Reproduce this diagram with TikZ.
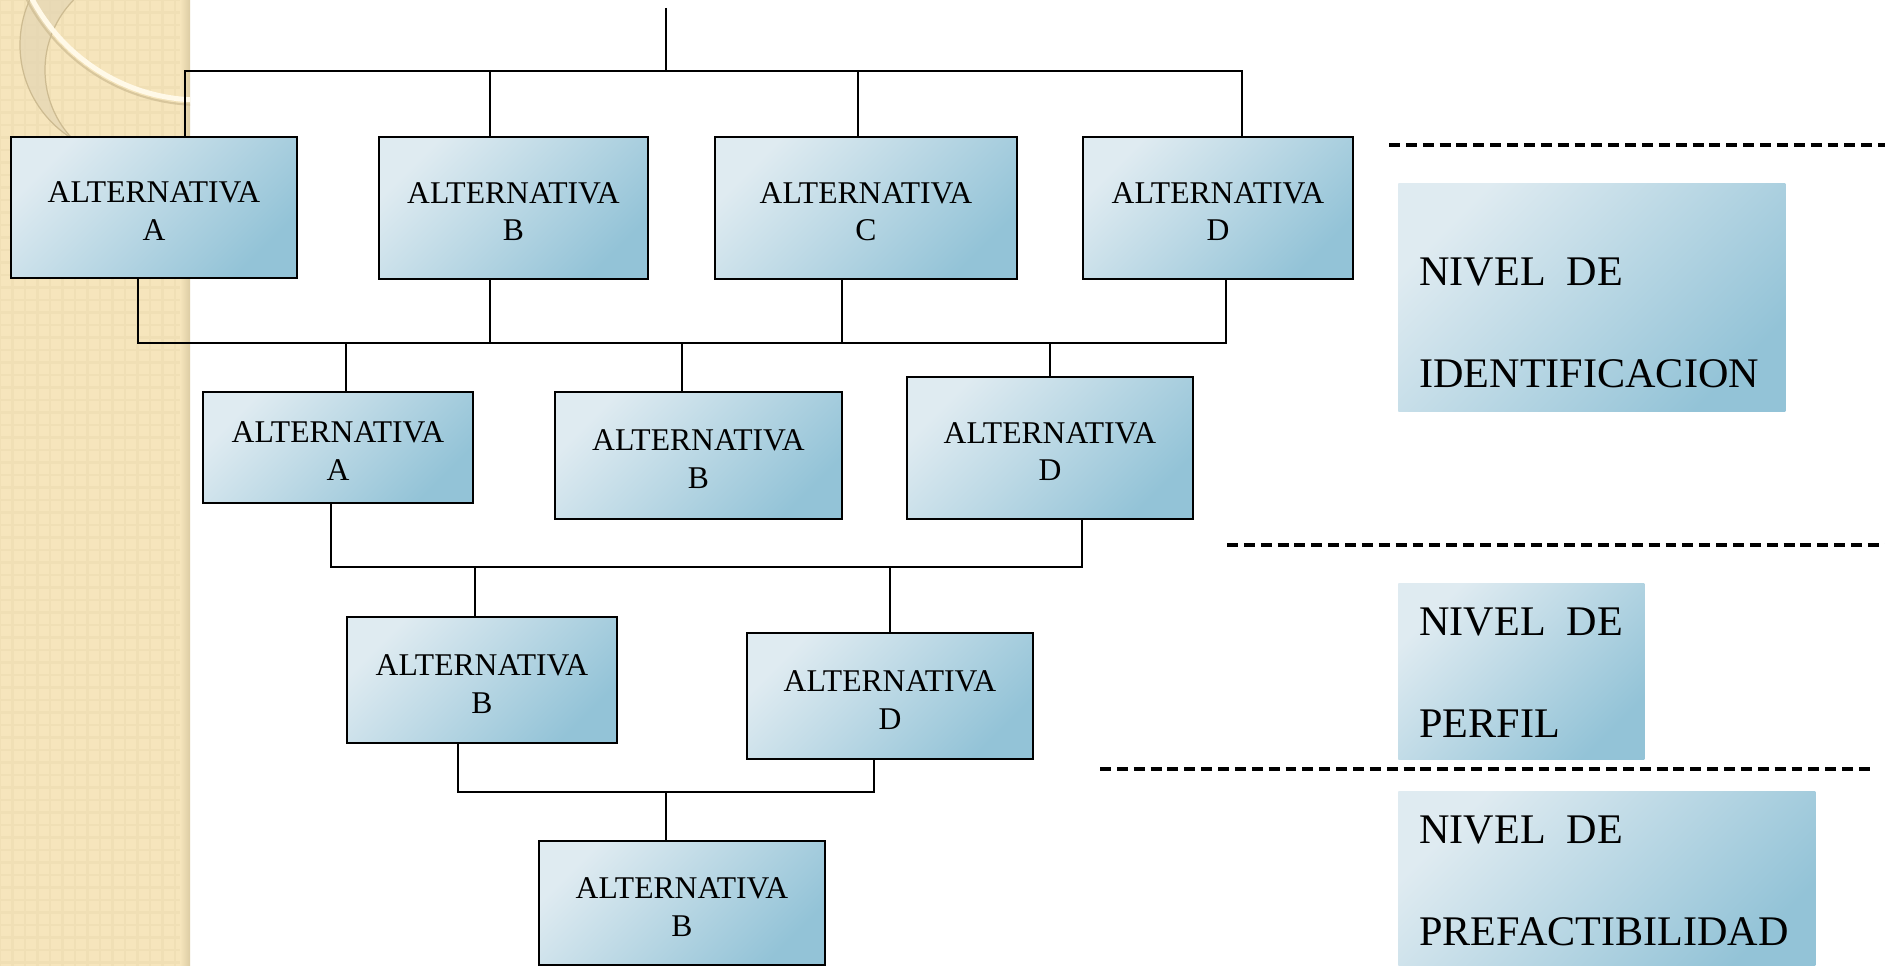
\documentclass[tikz,border=0pt]{standalone}
\usepackage{fontspec}
\setmainfont{Liberation Serif}
\definecolor{boxlight}{HTML}{DFEBF1}
\definecolor{boxdark}{HTML}{93C3D7}
\definecolor{paper}{HTML}{F6E5BC}
\definecolor{paperline}{HTML}{F0DFB5}
\definecolor{paperedge}{HTML}{DCCCA4}
\definecolor{ringcol}{HTML}{E4D6B4}
\definecolor{ringedge}{HTML}{CDBB91}
\definecolor{shine}{HTML}{FFF9E8}

\begin{document}
\begin{tikzpicture}[x=0.02cm, y=-0.02cm]
	% Define styles
	\tikzstyle{altblock} = [rectangle, draw, line width=1.6pt, top color=boxlight, bottom color=boxdark, shading angle=45,
	align=center, inner sep=0pt, text height=1.32cm, text depth=0pt, font=\fontsize{18}{21.6}\selectfont]
	\tikzstyle{levelblock} = [rectangle, top color=boxlight, bottom color=boxdark, shading angle=45, anchor=north west, inner sep=0pt]
	\tikzstyle{leveltext} = [anchor=north west, inner sep=0pt, align=left, font=\fontsize{24}{58}\selectfont]
	\tikzstyle{line} = [line width=1.3pt]
	\tikzstyle{divider} = [line width=1.8pt, dash pattern=on 6.2pt off 3.4pt]

	% Page and side band
	\useasboundingbox (0,0) rectangle (1885,966);
	\fill[white] (0,0) rectangle (1885,966);
	\begin{scope}
		\clip (0,0) rectangle (190,966);
		\fill[paper] (0,0) rectangle (190,966);
		\draw[paperline, line width=1.4pt, step=0.25cm] (0,0) grid (190,966);
		\shade[left color=paper, right color=paperedge] (180,0) rectangle (190,966);
		\fill[ringcol, opacity=0.7, even odd rule] (130,45) circle (110) (145,70) circle (100);
		\draw[ringedge, line width=0.7pt] (130,45) circle (110);
		\draw[ringedge, line width=0.7pt] (145,70) circle (100);
		\draw[ringedge, line width=1.2pt, opacity=0.7] (200,-90) circle (195);
		\draw[shine, line width=0.1cm] (200,-90) circle (190);
	\end{scope}

	% Place nodes
	\node[altblock, minimum width=5.72cm, minimum height=2.82cm] (altA1) at (154,207.5) {ALTERNATIVA\\A};
	\node[altblock, minimum width=5.38cm, minimum height=2.84cm] (altB1) at (513.5,208) {ALTERNATIVA\\B};
	\node[altblock, minimum width=6.04cm, minimum height=2.84cm] (altC1) at (866,208) {ALTERNATIVA\\C};
	\node[altblock, minimum width=5.40cm, minimum height=2.84cm] (altD1) at (1218,208) {ALTERNATIVA\\D};

	\node[altblock, minimum width=5.40cm, minimum height=2.22cm] (altA2) at (338,447.5) {ALTERNATIVA\\A};
	\node[altblock, minimum width=5.74cm, minimum height=2.54cm] (altB2) at (698.5,455.5) {ALTERNATIVA\\B};
	\node[altblock, minimum width=5.72cm, minimum height=2.84cm] (altD2) at (1050,448) {ALTERNATIVA\\D};

	\node[altblock, minimum width=5.40cm, minimum height=2.52cm] (altB3) at (482,680) {ALTERNATIVA\\B};
	\node[altblock, minimum width=5.72cm, minimum height=2.52cm] (altD3) at (890,696) {ALTERNATIVA\\D};

	\node[altblock, minimum width=5.72cm, minimum height=2.48cm] (altB4) at (682,903) {ALTERNATIVA\\B};

	% Level boxes
	\node[levelblock, minimum width=7.74cm, minimum height=4.56cm] (identbox) at (1398,183) {};
	\node[leveltext] (identtext) at (1419,258) {NIVEL\ \ DE\\IDENTIFICACION};
	\node[levelblock, minimum width=4.92cm, minimum height=3.52cm] (perfilbox) at (1398,583) {};
	\node[leveltext] (perfiltext) at (1419,608) {NIVEL\ \ DE\\PERFIL};
	\node[levelblock, minimum width=8.34cm, minimum height=3.6cm] (prefacbox) at (1398,791) {};
	\node[leveltext] (prefactext) at (1419,816) {NIVEL\ \ DE\\PREFACTIBILIDAD};

	% Junction points
	\coordinate (root) at (666,8);
	\coordinate (bus1) at (666,71);
	\coordinate (jA1) at (185,71);
	\coordinate (jB1) at (490,71);
	\coordinate (jC1) at (858,71);
	\coordinate (jD1) at (1242,71);
	\coordinate (kA1) at (138,343);
	\coordinate (kB1) at (490,343);
	\coordinate (kC1) at (842,343);
	\coordinate (kD1) at (1226,343);
	\coordinate (jA2) at (346,343);
	\coordinate (jB2) at (682,343);
	\coordinate (jD2) at (1050,343);
	\coordinate (kA2) at (331,567);
	\coordinate (kD2) at (1082,567);
	\coordinate (jB3) at (475,567);
	\coordinate (jD3) at (890,567);
	\coordinate (kB3) at (458,792);
	\coordinate (kD3) at (874,792);
	\coordinate (jB4) at (666,792);

	% Draw connectors
	\draw[line] (root) -- (bus1);
	\draw[line] (altA1.north -| jA1) -- (jA1) -- (jD1) -- (altD1.north -| jD1);
	\draw[line] (jB1) -- (altB1.north -| jB1);
	\draw[line] (jC1) -- (altC1.north -| jC1);

	\draw[line] (altA1.south -| kA1) -- (kA1) -- (kD1) -- (altD1.south -| kD1);
	\draw[line] (altB1.south -| kB1) -- (kB1);
	\draw[line] (altC1.south -| kC1) -- (kC1);
	\draw[line] (jA2) -- (altA2.north -| jA2);
	\draw[line] (jB2) -- (altB2.north -| jB2);
	\draw[line] (jD2) -- (altD2.north -| jD2);

	\draw[line] (altA2.south -| kA2) -- (kA2) -- (kD2) -- (altD2.south -| kD2);
	\draw[line] (jB3) -- (altB3.north -| jB3);
	\draw[line] (jD3) -- (altD3.north -| jD3);

	\draw[line] (altB3.south -| kB3) -- (kB3) -- (kD3) -- (altD3.south -| kD3);
	\draw[line] (jB4) -- (altB4.north -| jB4);

	% Level dividers
	\coordinate (divA) at (1389,145);
	\coordinate (divAend) at (1885,145);
	\coordinate (divB) at (1227,545);
	\coordinate (divBend) at (1885,545);
	\coordinate (divC) at (1100,769);
	\coordinate (divCend) at (1873,769);
	\draw[divider] (divA) -- (divAend);
	\draw[divider] (divB) -- (divBend);
	\draw[divider] (divC) -- (divCend);
\end{tikzpicture}
\end{document}
